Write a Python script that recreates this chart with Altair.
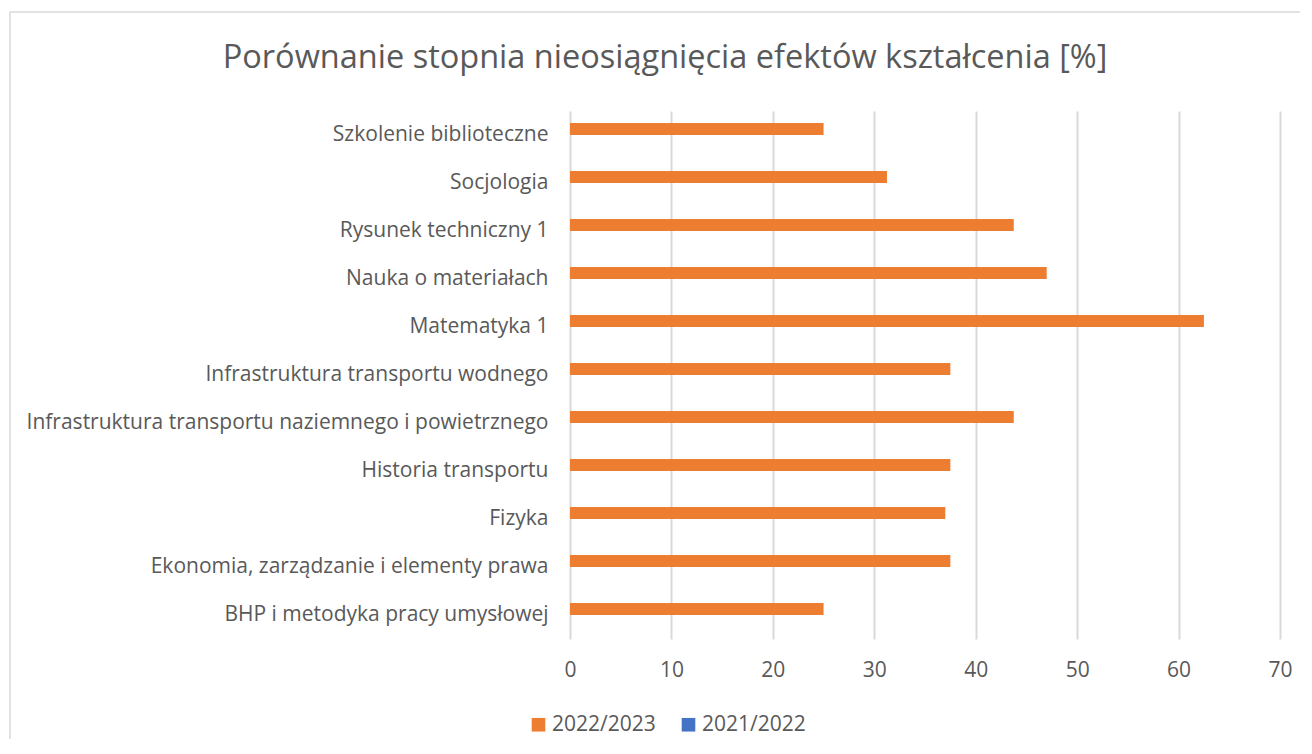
import altair as alt
import pandas as pd

title_text = "Porównanie stopnia nieosiągnięcia efektów kształcenia [%]"
categories = [
    "Szkolenie biblioteczne",
    "Socjologia",
    "Rysunek techniczny 1",
    "Nauka o materiałach",
    "Matematyka 1",
    "Infrastruktura transportu wodnego",
    "Infrastruktura transportu naziemnego i powietrznego",
    "Historia transportu",
    "Fizyka",
    "Ekonomia, zarządzanie i elementy prawa",
    "BHP i metodyka pracy umysłowej",
]
series_names = ["2022/2023", "2021/2022"]
values_2022_2023 = [25, 31.25, 43.75, 47, 62.5, 37.5, 43.75, 37.5, 37, 37.5, 25]
values_2021_2022 = [0, 0, 0, 0, 0, 0, 0, 0, 0, 0, 0]
x_ticks = [0, 10, 20, 30, 40, 50, 60, 70]
colors = ["#ED7D31", "#4472C4"]

rows = []
for c, v1, v2 in zip(categories, values_2022_2023, values_2021_2022):
    rows.append({"kategoria": c, "seria": series_names[0], "wartosc": v1})
    rows.append({"kategoria": c, "seria": series_names[1], "wartosc": v2})
df = pd.DataFrame(rows)

FONT = "Open Sans"
TXT = "#595959"

bars = alt.Chart(df).mark_bar().encode(
    y=alt.Y("kategoria:N", sort=categories, title=None,
            scale=alt.Scale(paddingInner=0.5, paddingOuter=0.25),
            axis=alt.Axis(domain=False, ticks=False, labelFontSize=21, labelColor=TXT,
                          labelFont=FONT, labelPadding=22, labelLimit=600)),
    yOffset=alt.YOffset("seria:N", sort=series_names, scale=alt.Scale(paddingInner=0, paddingOuter=0)),
    x=alt.X("wartosc:Q", title=None, scale=alt.Scale(domain=[0, 70], nice=False),
            axis=alt.Axis(values=x_ticks, domain=False, ticks=False, grid=True,
                          gridColor="#d9d9d9", gridWidth=2, labelFontSize=21, labelColor=TXT,
                          labelFont=FONT, labelPadding=20, labelFlush=False)),
    color=alt.Color("seria:N", sort=series_names,
                    scale=alt.Scale(domain=series_names, range=colors),
                    legend=alt.Legend(title=None, orient="none", direction="horizontal",
                                      legendX=-42, legendY=603, symbolType="square",
                                      symbolSize=185, symbolStrokeWidth=0,
                                      labelFontSize=21, labelColor=TXT, labelFont=FONT,
                                      columnPadding=22, labelOffset=3)),
)

border = alt.Chart(pd.DataFrame({"k": [0]})).mark_rect(
    fill=None, stroke="#d9d9d9", strokeWidth=1.5
).encode(
    x=alt.value(-560), x2=alt.value(760), y=alt.value(-99), y2=alt.value(660)
)

title = alt.Chart(pd.DataFrame({"t": [title_text]})).mark_text(
    font=FONT, fontSize=32.5, color=TXT, align="center", baseline="middle"
).encode(
    text="t:N", x=alt.value(95), y=alt.value(-53)
)

chart = alt.layer(border, title, bars).properties(
    width=710,
    height=528,
    autosize=alt.AutoSizeParams(type="none"),
    padding={"left": 562, "top": 103, "right": 20, "bottom": 100},
).configure(background="white").configure_view(stroke=None)

chart.save("out.html", embed_options={"renderer": "svg", "actions": False})
